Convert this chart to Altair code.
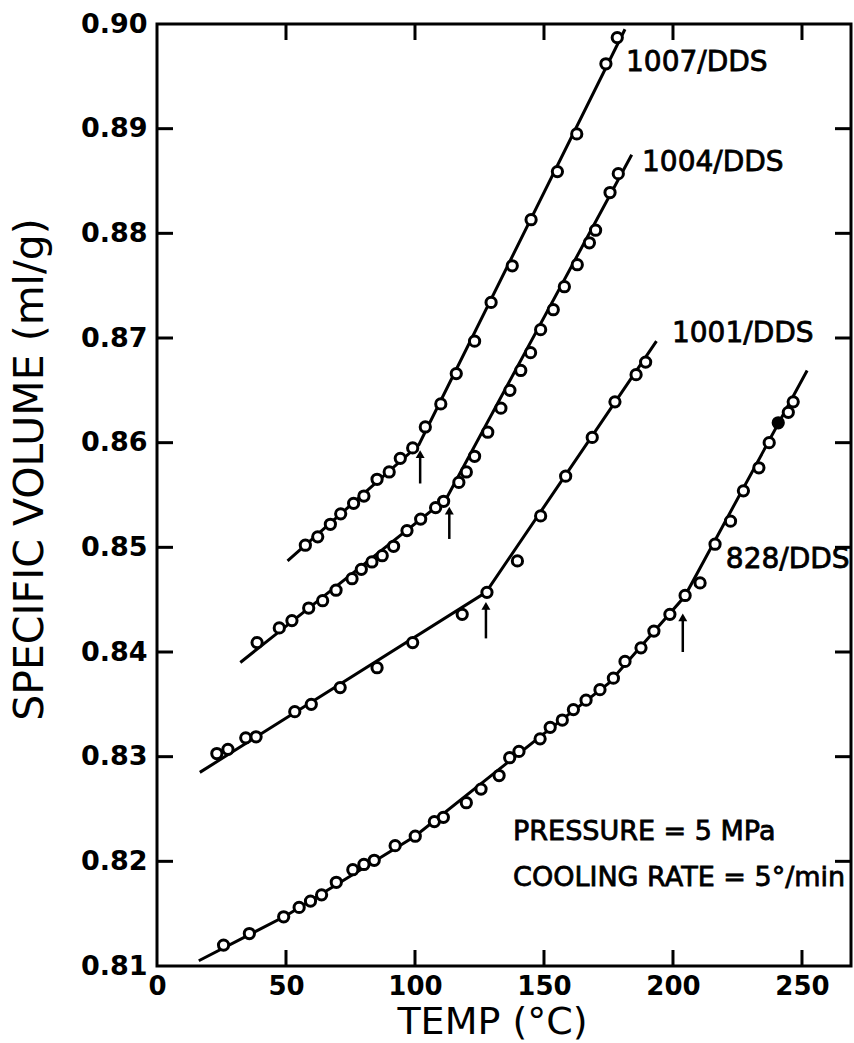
import altair as alt
import pandas as pd

# ---------------- data ----------------
T_1007 = [57.5, 62.3, 67.2, 71.2, 76.2, 80.2, 85.3, 90.0, 94.3, 99.1, 104.0, 110.0,
          116.0, 123.1, 129.5, 137.7, 145.0, 155.2, 162.7, 174.0, 178.4]
V_1007 = [0.8502, 0.8510, 0.8522, 0.8532, 0.8542, 0.8549, 0.8565, 0.8572, 0.8585, 0.8595,
          0.8615, 0.8637, 0.8666, 0.8697, 0.8734, 0.8769, 0.8813, 0.8859, 0.8895, 0.8962, 0.8987]

T_1004 = [38.8, 47.4, 52.3, 58.8, 64.2, 69.4, 75.6, 79.2, 83.3, 87.3, 91.7, 96.9, 102.2,
          108.0, 111.1, 117.0, 119.9, 123.1, 128.2, 133.3, 136.8, 141.0, 144.8, 148.7,
          153.6, 157.9, 162.9, 167.6, 170.0, 175.6, 178.8]
V_1004 = [0.8409, 0.8423, 0.8430, 0.8442, 0.8449, 0.8459, 0.8470, 0.8479, 0.8486, 0.8492,
          0.8501, 0.8516, 0.8527, 0.8538, 0.8544, 0.8562, 0.8572, 0.8587, 0.8610, 0.8633,
          0.8650, 0.8669, 0.8686, 0.8708, 0.8727, 0.8749, 0.8770, 0.8791, 0.8803, 0.8839, 0.8857]

T_1001 = [23.2, 27.5, 34.4, 38.4, 53.4, 59.8, 71.0, 85.3, 99.1, 118.3, 127.9, 139.7,
          148.7, 158.4, 168.7, 177.5, 185.7, 189.4]
V_1001 = [0.8303, 0.8307, 0.8318, 0.8319, 0.8343, 0.8350, 0.8366, 0.8385, 0.8409, 0.8436,
          0.8457, 0.8487, 0.8530, 0.8568, 0.8605, 0.8639, 0.8665, 0.8677]

T_828 = [25.8, 35.8, 49.1, 55.1, 59.5, 63.8, 69.5, 75.9, 80.2, 84.2, 92.3, 100.1, 107.5,
         111.0, 119.9, 125.6, 132.6, 136.7, 140.3, 148.5, 152.4, 157.1, 161.4, 166.3,
         171.7, 176.9, 181.4, 187.6, 192.6, 198.8, 204.7, 210.5, 216.3, 222.3, 227.3,
         233.3, 237.3, 240.8, 244.7, 246.6]
V_828 = [0.8120, 0.8131, 0.8147, 0.8156, 0.8162, 0.8168, 0.8180, 0.8192, 0.8197, 0.8201,
         0.8215, 0.8224, 0.8238, 0.8242, 0.8256, 0.8269, 0.8282, 0.8299, 0.8305, 0.8317,
         0.8328, 0.8335, 0.8345, 0.8354, 0.8364, 0.8375, 0.8391, 0.8404, 0.8420, 0.8436,
         0.8454, 0.8466, 0.8503, 0.8525, 0.8554, 0.8576, 0.8600, 0.8619, 0.8629, 0.8639]
FILLED_828_T = 240.8

# fitted lines (glassy + rubbery branches)
LINE_1007_T = [50.6, 101.5, 181.4]
LINE_1007_V = [0.8487, 0.8598, 0.8995]
LINE_1004_T = [32.3, 112.0, 184.0]
LINE_1004_V = [0.8390, 0.8546, 0.8875]
LINE_1001_T = [16.6, 127.5, 193.6]
LINE_1001_V = [0.8285, 0.8457, 0.8697]
LINE_828_T = [16.2, 50.0, 100.0, 150.0, 175.0, 204.5, 252.0]
LINE_828_V = [0.8105, 0.8148, 0.8224, 0.8322, 0.8370, 0.8453, 0.8669]

# Tg arrows
ARROW_T = [102.0, 113.3, 127.5, 203.8]
ARROW_TAIL = [0.8561, 0.8508, 0.8413, 0.8400]
ARROW_TIP = [0.8593, 0.8539, 0.8448, 0.8437]

SERIES = ["1007/DDS", "1004/DDS", "1001/DDS", "828/DDS"]
LABEL_T = [181.8, 188.0, 199.6, 220.5]
LABEL_V = [0.8963, 0.8867, 0.8704, 0.8488]

NOTE_TEXT = ["PRESSURE = 5 MPa", "COOLING RATE = 5°/min"]
NOTE_T = [138.0, 138.0]
NOTE_V = [0.8228, 0.8184]

X_TICKS = [0, 50, 100, 150, 200, 250]
Y_TICKS = [0.81, 0.82, 0.83, 0.84, 0.85, 0.86, 0.87, 0.88, 0.89, 0.90]
X_INNER = [50, 100, 150, 200, 250]
Y_INNER = [0.82, 0.83, 0.84, 0.85, 0.86, 0.87, 0.88, 0.89]

# ---------------- build tables ----------------
W, H = 694, 942
FONT = "DejaVu Sans"
TICK = 16

pts = pd.concat([
    pd.DataFrame({"T": T_1007, "V": V_1007, "series": SERIES[0]}),
    pd.DataFrame({"T": T_1004, "V": V_1004, "series": SERIES[1]}),
    pd.DataFrame({"T": T_1001, "V": V_1001, "series": SERIES[2]}),
    pd.DataFrame({"T": T_828, "V": V_828, "series": SERIES[3]}),
], ignore_index=True)
pts["kind"] = "open"
pts.loc[(pts["series"] == "828/DDS") & (pts["T"] == FILLED_828_T), "kind"] = "filled"

lines = pd.concat([
    pd.DataFrame({"T": LINE_1007_T, "V": LINE_1007_V, "series": SERIES[0]}),
    pd.DataFrame({"T": LINE_1004_T, "V": LINE_1004_V, "series": SERIES[1]}),
    pd.DataFrame({"T": LINE_1001_T, "V": LINE_1001_V, "series": SERIES[2]}),
    pd.DataFrame({"T": LINE_828_T, "V": LINE_828_V, "series": SERIES[3]}),
], ignore_index=True)
lines["order"] = range(len(lines))

shafts = pd.DataFrame({"T": ARROW_T, "V": ARROW_TAIL,
                       "V2": [v - 0.0006 for v in ARROW_TIP]})
heads = pd.DataFrame({"T": ARROW_T, "V": [v - 0.0004 for v in ARROW_TIP]})
labels = pd.DataFrame({"T": LABEL_T, "V": LABEL_V, "text": SERIES})
notes = pd.DataFrame({"T": NOTE_T, "V": NOTE_V, "text": NOTE_TEXT})
yt = pd.DataFrame({"V": Y_INNER})
xt = pd.DataFrame({"T": X_INNER})

xscale = alt.Scale(domain=[0, 269], nice=False, zero=False)
yscale = alt.Scale(domain=[0.81, 0.90], nice=False, zero=False)

X = alt.X("T:Q", scale=xscale, axis=alt.Axis(
    values=X_TICKS, title="TEMP (°C)", grid=False, ticks=False, domain=False,
    labelFont=FONT, labelFontSize=26, labelFontWeight="bold", labelColor="black",
    labelPadding=7, labelFlush=False,
    titleFont=FONT, titleFontSize=38, titleFontWeight="normal", titleColor="black",
    titleX=335, titleY=56, titleBaseline="middle", titleAlign="center"))
Y = alt.Y("V:Q", scale=yscale, axis=alt.Axis(
    values=Y_TICKS, format=".2f", title="SPECIFIC VOLUME (ml/g)", grid=False,
    ticks=False, domain=False,
    labelFont=FONT, labelFontSize=27, labelFontWeight="bold", labelColor="black",
    labelPadding=10, labelFlush=False,
    titleFont=FONT, titleFontSize=41, titleFontWeight="normal", titleColor="black",
    titleAngle=270, titleX=-127, titleY=445, titleBaseline="middle", titleAlign="center"))

line_layer = alt.Chart(lines).mark_line(color="black", strokeWidth=3).encode(
    x=X, y=Y, detail="series:N", order="order:Q")

pt_layer = alt.Chart(pts).mark_point(
    shape="circle", filled=True, size=105, stroke="black", strokeWidth=3, opacity=1
).encode(
    x=X, y=Y,
    fill=alt.Fill("kind:N", scale=alt.Scale(domain=["open", "filled"], range=["white", "black"]),
                  legend=None))

arrow_shaft = alt.Chart(shafts).mark_rule(color="black", strokeWidth=2.5).encode(
    x=X, y=Y, y2="V2:Q")
arrow_head = alt.Chart(heads).mark_point(
    shape="triangle-up", filled=True, color="black", size=80, opacity=1
).encode(x=X, y=Y)

label_layer = alt.Chart(labels).mark_text(
    align="left", baseline="middle", font=FONT, fontSize=28, color="black",
    stroke="black", strokeWidth=0.8).encode(x=X, y=Y, text="text:N")
note_layer = alt.Chart(notes).mark_text(
    align="left", baseline="middle", font=FONT, fontSize=27, color="black",
    stroke="black", strokeWidth=0.8).encode(x=X, y=Y, text="text:N")

left_ticks = alt.Chart(yt).mark_rule(color="black", strokeWidth=3).encode(
    y=Y, x=alt.value(0), x2=alt.value(TICK))
right_ticks = alt.Chart(yt).mark_rule(color="black", strokeWidth=3).encode(
    y=Y, x=alt.value(W - TICK), x2=alt.value(W))
bottom_ticks = alt.Chart(xt).mark_rule(color="black", strokeWidth=3).encode(
    x=X, y=alt.value(H - TICK), y2=alt.value(H))
top_ticks = alt.Chart(xt).mark_rule(color="black", strokeWidth=3).encode(
    x=X, y=alt.value(0), y2=alt.value(TICK))

chart = alt.layer(
    left_ticks, right_ticks, bottom_ticks, top_ticks,
    line_layer, arrow_shaft, arrow_head, pt_layer, label_layer, note_layer
).properties(
    width=W, height=H,
    autosize=alt.AutoSizeParams(type="none"),
    padding={"left": 157, "top": 24, "right": 3, "bottom": 77},
    background="white",
).configure_view(stroke="black", strokeWidth=3)

chart.save("out.html", embed_options={"renderer": "svg", "actions": False})
